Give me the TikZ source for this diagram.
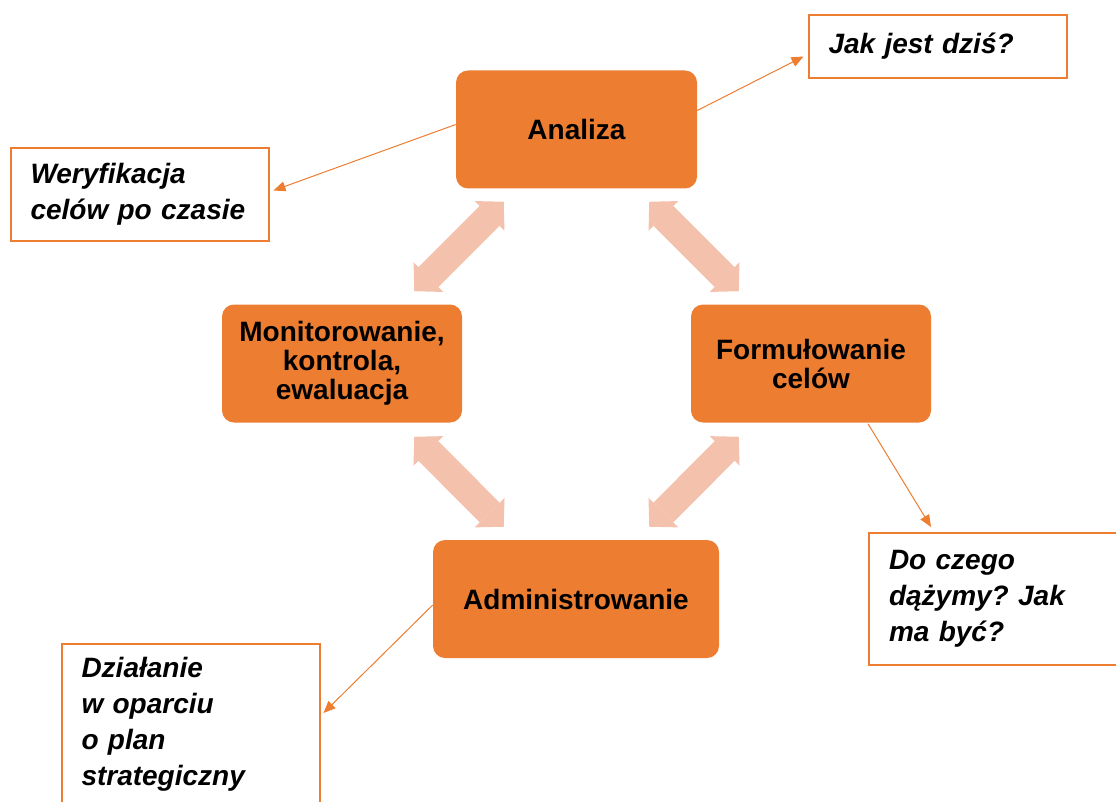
\documentclass[tikz,border=0pt]{standalone}
\usepackage{fontspec}
\setmainfont{Liberation Sans}
\usetikzlibrary{arrows.meta,calc}
\definecolor{ciemny}{RGB}{237,125,49}
\definecolor{jasny}{RGB}{244,193,173}
\frenchspacing

\begin{document}
\begin{tikzpicture}[x=0.75pt,y=-0.75pt,
  etap/.style={fill=ciemny,rounded corners=9pt,align=center,inner sep=0pt,minimum height=88.5pt,font=\fontsize{21}{21.75}\selectfont\bfseries},
  opis/.style={draw=ciemny,line width=1.5pt,fill=white,align=left,text width=163.5pt,inner xsep=15pt,inner ysep=0pt,font=\fontsize{21}{27}\selectfont\bfseries\itshape},
  strzalka/.style={ciemny,line width=0.75pt,-{Triangle[width=7.5pt,length=9pt]}},
  cykl/.style={jasny,line width=21pt,{Triangle[width=31.5pt,length=15pt,line width=0pt]}-{Triangle[width=31.5pt,length=15pt,line width=0pt]}}]
				\useasboundingbox (0,0) rectangle (1116,802);
				\clip (0,0) rectangle (1116,802);
				\node[etap,minimum width=180.75pt] (analiza) at (576.5,129.5) {Analiza};
				\node[etap,minimum width=180pt] (monit) at (342,363.5) {Monitorowanie,\\kontrola,\\ewaluacja};
				\node[etap,minimum width=180pt] (formul) at (811,363.5) {Formułowanie\\celów};
				\node[etap,minimum width=214.5pt] (admin) at (576,599) {Administrowanie};
				\node[opis,minimum height=47.25pt] (dzis) at (937.5,46.5) {Jak jest dziś?};
				\node[opis,minimum height=69.75pt] (weryf) at (139.5,194.5) {Weryfikacja\\celów po czasie};
				\node[opis,minimum height=99pt] (dazymy) at (998,599) {Do czego\\dążymy? Jak\\ma być?};
				\node[opis,minimum height=120pt] (plan) at (190.5,724) {Działanie\\w oparciu\\o plan\\strategiczny};
				\draw[cykl] ($(analiza.south west)+(48,13)$) -- ($(monit.north east)+(-48,-13)$);
				\draw[cykl] ($(analiza.south east)+(-48,13)$) -- ($(formul.north west)+(48,-13)$);
				\draw[cykl] ($(monit.south east)+(-48,14)$) -- ($(admin.north west)+(71,-13)$);
				\draw[cykl] ($(formul.south west)+(48,14)$) -- ($(admin.north east)+(-70,-13)$);
				\draw[strzalka] ($(analiza.west)+(0,-5)$) -- ($(weryf.east)+(4,-4)$);
				\draw[strzalka] ($(analiza.east)+(0,-19)$) -- ($(dzis.west)+(-4,10)$);
				\draw[strzalka] ($(formul.south)+(57,1)$) -- ($(dazymy.north)+(-67,-5)$);
				\draw[strzalka] ($(admin.west)+(0,6)$) -- ($(plan.east)+(3,-11)$);
			\end{tikzpicture}
\end{document}
